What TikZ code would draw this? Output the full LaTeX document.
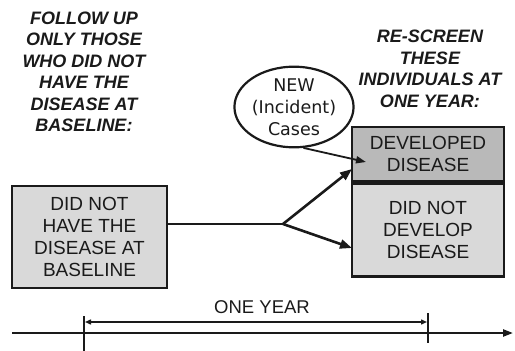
\documentclass[tikz,border=0pt]{standalone}
\usepackage{fontspec}
\setmainfont{Liberation Sans}
\newfontfamily\bubblefont{DejaVu Sans}
\usetikzlibrary{arrows.meta,shapes.geometric}
\definecolor{ink}{HTML}{1A1A1A}
\definecolor{lightfill}{HTML}{D9D9D9}
\definecolor{darkfill}{HTML}{B9B9B9}
\tikzset{
  x=1pt,y=-1pt,
  every node/.style={text=ink},
  note/.style={align=center,font=\fontsize{18}{21.5}\selectfont\bfseries\itshape},
  boxtext/.style={align=center,font=\fontsize{19}{22}\selectfont},
  box/.style={draw=ink,line width=2.4pt,rectangle,inner sep=0pt,boxtext},
  conn/.style={draw=ink,line width=2.6pt},
  tip/.style={-{Triangle[length=12pt,width=9pt]}},
  thin/.style={draw=ink,line width=1.3pt},
}
\begin{document}
\begin{tikzpicture}
\useasboundingbox (0,0) rectangle (515,351);
% notes
\node[note] (leftnote) at (84,72) {FOLLOW UP\\ONLY THOSE\\WHO DID NOT\\HAVE THE\\DISEASE AT\\BASELINE:};
\node[note] (rightnote) at (430,69) {RE-SCREEN\\THESE\\INDIVIDUALS AT\\ONE YEAR:};
% left box
\node[box,fill=lightfill,minimum width=155,minimum height=102] (base) at (89.5,237) {DID NOT\\HAVE THE\\DISEASE AT\\BASELINE};
% right boxes
\node[box,fill=darkfill,minimum width=152,minimum height=54] (dev) at (428,154) {DEVELOPED\\DISEASE};
\node[box,fill=lightfill,minimum width=152,minimum height=93,anchor=north] (nodev) at (dev.south) {DID NOT\\DEVELOP\\DISEASE};
% ellipse
\node[draw=ink,line width=2.2pt,ellipse,minimum width=112,minimum height=78,inner sep=0pt,align=center,font=\fontsize{17.5}{22}\selectfont\bubblefont] (bubble) at (294,107) {NEW\\(Incident)\\Cases};
% connectors
\coordinate (branch) at (283,224);
\coordinate (uptip) at (352,169);
\coordinate (lowtip) at (352,248);
\coordinate (devtip) at (366,162);
\draw[conn] (base.east |- branch) -- (branch);
\draw[conn,tip] (branch) -- (uptip);
\draw[conn,tip] (branch) -- (lowtip);
\draw[thin,line width=1.8pt,-{Triangle[length=10pt,width=7pt]}] (bubble.-77) -- (devtip);
% timeline
\coordinate (tstart) at (12,333);
\coordinate (tend) at (513,333);
\draw[thin,line width=2.2pt,-{Triangle[length=10pt,width=7pt]}] (tstart) -- (tend);
\coordinate (t0a) at (84,316);
\coordinate (t0b) at (84,351);
\coordinate (t1a) at (428,313);
\coordinate (t1b) at (428,343);
\draw[thin,line width=2.2pt] (t0a) -- (t0b);
\draw[thin,line width=2.2pt] (t1a) -- (t1b);
\coordinate (s0) at (85,322);
\coordinate (s1) at (427,322);
\draw[thin,line width=1.4pt,{Triangle[length=6pt,width=5pt]}-{Triangle[length=6pt,width=5pt]}] (s0) -- (s1);
\node[font=\fontsize{18.5}{22}\selectfont] (oneyear) at (262,307) {ONE YEAR};
\end{tikzpicture}
\end{document}
